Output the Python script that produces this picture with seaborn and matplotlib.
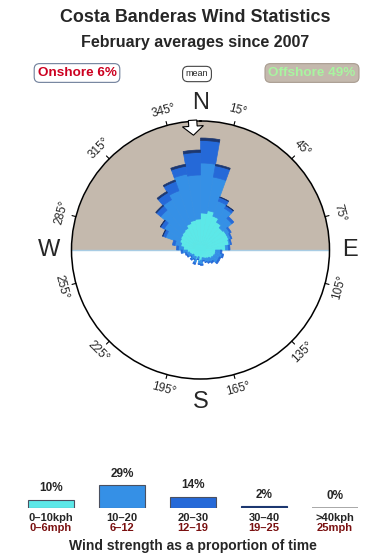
import numpy as np
import pandas as pd
import matplotlib
matplotlib.use("Agg")
import matplotlib.pyplot as plt
from matplotlib.patches import Polygon
import seaborn as sns

# ---------------- data ----------------
sector_start = list(range(0, 360, 10))  # degrees, clockwise from N
speed_0_10 = [37, 40, 36, 32, 29, 30, 30, 29, 25, 15, 15, 14, 13, 11, 10, 9, 8, 10,
              11, 7, 10, 8, 9, 8, 10, 11, 13, 17, 20, 22, 23, 24, 25, 28, 30, 31]
speed_10_20 = [50, 34, 16, 16, 12, 4, 2.5, 1.5, 3, 5, 7, 6, 7, 5, 4.5, 4, 3, 4.5,
               3, 2.5, 4, 3, 3.5, 3, 3.5, 3.5, 5, 5, 6, 15, 19, 28, 33, 35, 47, 44]
speed_20_30 = [22.5, 11.5, 4, 3, 2.5, 1.5, 1, 1, 1.5, 1.5, 1.5, 1.5, 1.5, 1.5, 1, 0.5, 0.5, 1,
               0.5, 0.5, 1.5, 0.5, 1, 0.5, 1, 1, 1.5, 2, 2.5, 3, 4, 5.5, 8, 10, 8, 22.5]
speed_30_40 = [2.5, 1.5, 0.5, 0.5, 0, 0, 0, 0, 0, 0, 0, 0, 0, 0, 0, 0, 0, 0,
               0, 0, 0, 0, 0, 0, 0, 0, 0, 0, 0, 0.5, 0.5, 1, 1.5, 1.5, 2, 2.5]
rose_max = 129
mean_direction = 356.5

tick_angles = [15, 45, 75, 105, 135, 165, 195, 225, 255, 285, 315, 345]
compass = {"N": (0, 147), "E": (90, 150), "S": (180, 152), "W": (270, 151)}

speed_cats = ["0–10kph", "10–20", "20–30", "30–40", ">40kph"]
speed_mph = ["0–6mph", "6–12", "12–19", "19–25", "25mph"]
speed_pct = [10, 29, 14, 2, 0]

onshore_pct = 6
offshore_pct = 49

colors = ["#5CE8E8", "#3590E6", "#2569D8", "#1C3770", "#9A9A9A"]
taupe = "#C4B9AD"

# ---------------- style ----------------
sns.set_theme(style="white")
plt.rcParams["font.family"] = ["Liberation Sans", "DejaVu Sans"]

W, H = 390, 560
fig = plt.figure(figsize=(W / 100, H / 100), dpi=100)
fig.patch.set_facecolor("white")

R = 129
cx, cy = 200.5, 250
ax = fig.add_axes([(cx - R) / W, (H - cy - R) / H, 2 * R / W, 2 * R / H], projection="polar")
ax.set_theta_zero_location("N")
ax.set_theta_direction(-1)
ax.set_ylim(0, rose_max)
ax.grid(False)
ax.set_xticks([])
ax.set_yticks([])
ax.set_facecolor("white")
ax.spines["polar"].set_color("black")
ax.spines["polar"].set_linewidth(1.1)

# offshore half (north)
th = np.linspace(-np.pi / 2, np.pi / 2, 300)
ax.fill_between(th, 0, rose_max, color=taupe, zorder=0, linewidth=0)
ax.plot([np.pi / 2, np.pi / 2], [0, rose_max], color="#A8CCE4", lw=1.0, zorder=1)
ax.plot([3 * np.pi / 2, 3 * np.pi / 2], [0, rose_max], color="#A8CCE4", lw=1.0, zorder=1)

# rose
theta = np.deg2rad(sector_start)
width = np.deg2rad(10)
bottom = np.zeros(len(sector_start))
for vals, c in zip([speed_0_10, speed_10_20, speed_20_30, speed_30_40], colors[:4]):
    v = np.array(vals, dtype=float)
    m = v > 0
    ax.bar(theta[m], v[m], width=width, bottom=bottom[m], align="edge", color=c,
           edgecolor=c, linewidth=0.5, zorder=2)
    bottom += v

# ticks and labels
for a in tick_angles:
    t = np.deg2rad(a)
    ax.plot([t, t], [rose_max, rose_max + 4], color="black", lw=0.8, clip_on=False, zorder=3)
    rot = -a
    if 90 < a < 270:
        rot += 180
    ax.text(t, rose_max + 15, f"{a}°", rotation=rot, rotation_mode="anchor",
            ha="center", va="center", fontsize=8.5, clip_on=False)

for lab, (a, r) in compass.items():
    ax.text(np.deg2rad(a), r, lab, ha="center", va="center",
            fontsize=17, clip_on=False)

# mean arrow (pointing inwards)
ang = np.deg2rad(mean_direction)
u = np.array([np.sin(ang), np.cos(ang)])
v = np.array([np.cos(ang), -np.sin(ang)])
local = [(130, -4.2), (130, 4.2), (124, 4.2), (124, 10.5), (115, 0), (124, -10.5), (124, -4.2)]
pts = []
for r, s in local:
    p = np.array([cx, H - cy]) + r * u + s * v
    pts.append((p[0] / W, p[1] / H))
fig.patches.append(Polygon(pts, closed=True, facecolor="white", edgecolor="black",
                           linewidth=0.8, transform=fig.transFigure, zorder=5))

# titles
fig.text(0.5, 1 - 18 / H, "Costa Banderas Wind Statistics", ha="center", va="center",
         fontsize=12.9, fontweight="bold")
fig.text(0.5, 1 - 42 / H, "February averages since 2007", ha="center", va="center",
         fontsize=11.5, fontweight="bold")

# top legend
fig.text(77 / W, 1 - 73 / H, f"Onshore {onshore_pct}%", ha="center", va="center",
         fontsize=9.7, fontweight="bold", color="#CC0020",
         bbox=dict(boxstyle="round,pad=0.25,rounding_size=0.4", fc="white", ec="#6E7E9A", lw=0.8))
fig.text(197 / W, 1 - 74 / H, "mean", ha="center", va="center", fontsize=6.5,
         bbox=dict(boxstyle="round,pad=0.35,rounding_size=0.6", fc="white", ec="#444444", lw=0.8))
fig.text(312 / W, 1 - 73 / H, f"Offshore {offshore_pct}%", ha="center", va="center",
         fontsize=9.7, fontweight="bold", color="#A8F5A0",
         bbox=dict(boxstyle="round,pad=0.25,rounding_size=0.4", fc=taupe, ec="#A89C90", lw=0.8))

# bottom legend bars (seaborn)
axb = fig.add_axes([15.5 / W, (H - 507.7) / H, 355 / W, 31.2 / H])
df = pd.DataFrame({"cat": speed_cats, "pct": speed_pct})
sns.barplot(data=df, x="cat", y="pct", hue="cat", palette=colors, legend=False,
            width=0.634, ax=axb, saturation=1, linewidth=0.8, edgecolor="#4A5060")
for i, patch in enumerate(axb.patches):
    if speed_pct[i] == 0:
        patch.set_edgecolor(colors[4])
        patch.set_linewidth(1.2)
    elif i == 3:
        patch.set_edgecolor(colors[3])
axb.set_ylim(0, 40)
axb.set_xlim(-0.5, 4.5)
axb.axis("off")
for i, (p, k, m) in enumerate(zip(speed_pct, speed_cats, speed_mph)):
    axb.annotate(f"{p}%", (i, p), xytext=(0, 4), textcoords="offset points",
                 ha="center", va="bottom", fontsize=8.5, fontweight="bold", annotation_clip=False)
    axb.annotate(k, (i, 0), xytext=(0, -9.6), textcoords="offset points",
                 ha="center", va="baseline", fontsize=8, fontweight="bold", annotation_clip=False)
    axb.annotate(m, (i, 0), xytext=(0, -16.8), textcoords="offset points",
                 ha="center", va="baseline", fontsize=8, fontweight="bold", color="#7A1010",
                 annotation_clip=False)

fig.text(193 / W, 1 - 546 / H, "Wind strength as a proportion of time", ha="center",
         va="center", fontsize=10, fontweight="bold")

fig.savefig("out.png", dpi=100, facecolor="white")
